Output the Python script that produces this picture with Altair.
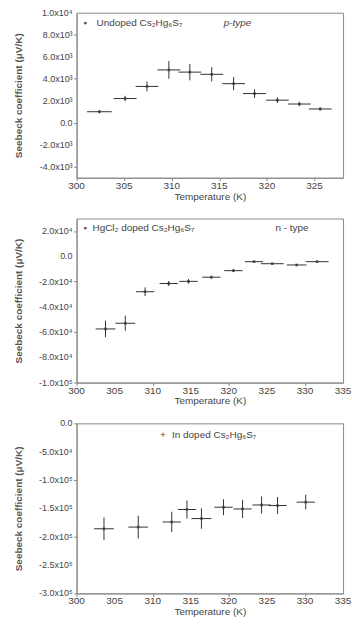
import altair as alt
import pandas as pd

# ---- Undoped Cs2Hg6S7 (p-type) ----
t1 = [302.4, 305.1, 307.4, 309.7, 311.9, 314.2, 316.5, 318.7, 321.1, 323.4, 325.6]
s1 = [1000, 2200, 3300, 4800, 4600, 4400, 3550, 2650, 2050, 1700, 1250]
dt1 = [1.3, 1.2, 1.2, 1.2, 1.2, 1.2, 1.2, 1.2, 1.2, 1.2, 1.2]
ds1 = [150, 250, 450, 800, 750, 650, 600, 400, 250, 200, 150]

# ---- HgCl2 doped Cs2Hg6S7 (n-type) ----
t2 = [303.8, 306.4, 309.0, 312.1, 314.7, 317.7, 320.6, 323.3, 325.7, 328.9, 331.6]
s2 = [-57500, -53000, -28000, -21500, -19800, -16500, -11300, -4200, -5800, -6800, -4200]
dt2 = [1.3, 1.3, 1.2, 1.2, 1.2, 1.2, 1.2, 1.2, 1.5, 1.3, 1.5]
ds2 = [6500, 6000, 3500, 2000, 1800, 1200, 1200, 800, 800, 800, 800]

# ---- In doped Cs2Hg6S7 ----
t3 = [303.6, 308.1, 312.5, 314.5, 316.4, 319.3, 321.8, 324.3, 326.4, 330.1]
s3 = [-186000, -183000, -174000, -152000, -168000, -148000, -151000, -144000, -145000, -139000]
dt3 = [1.3, 1.3, 1.2, 1.2, 1.3, 1.2, 1.2, 1.2, 1.2, 1.2]
ds3 = [20000, 20000, 18000, 16000, 18000, 14000, 16000, 15000, 15000, 13000]

# axis ticks and labels
x_ticks1 = [300, 305, 310, 315, 320, 325]
x_ticks23 = [300, 305, 310, 315, 320, 325, 330, 335]

y_ticks1 = [10000, 8000, 6000, 4000, 2000, 0, -2000, -4000]
y_labels1 = ["1.0x10⁴", "8.0x10³", "6.0x10³", "4.0x10³", "2.0x10³", "0.0", "-2.0x10³", "-4.0x10³"]

y_ticks2 = [20000, 0, -20000, -40000, -60000, -80000, -100000]
y_labels2 = ["2.0x10⁴", "0.0", "-2.0x10⁴", "-4.0x10⁴", "-6.0x10⁴", "-8.0x10⁴", "-1.0x10⁵"]

y_ticks3 = [0, -50000, -100000, -150000, -200000, -250000, -300000]
y_labels3 = ["0.0", "-5.0x10⁴", "-1.0x10⁵", "-1.5x10⁵", "-2.0x10⁵", "-2.5x10⁵", "-3.0x10⁵"]

FONT = "Liberation Sans"
INK = "#333333"
TXT = "#444444"
FRAME = "#888888"
PLOT_W = 268


def panel(t, s, dt, ds, xdom, xticks, ydom, yticks, ylabels, height, legend):
    df = pd.DataFrame({"T": t, "S": s, "dT": dt, "dS": ds})
    df["T0"] = df["T"] - df["dT"]
    df["T1"] = df["T"] + df["dT"]
    df["S0"] = df["S"] - df["dS"]
    df["S1"] = df["S"] + df["dS"]
    yt = pd.DataFrame({"v": yticks, "lab": ylabels})
    xt = pd.DataFrame({"v": xticks, "lab": [str(v) for v in xticks]})

    xs = alt.Scale(domain=xdom, nice=False, zero=False)
    ys = alt.Scale(domain=ydom, nice=False, zero=False)

    # axes carry ticks and titles; the value labels are drawn as text layers
    x_axis = alt.Axis(values=xticks, labels=False, title="Temperature (K)", grid=False,
                      titleFont=FONT, titleFontSize=10, titleFontWeight="normal",
                      titleColor=TXT, titlePadding=10, tickSize=3,
                      domainColor=FRAME, tickColor=FRAME)
    y_axis = alt.Axis(values=yticks, labels=False,
                      title="Seebeck coefficient (μV/K)", grid=False,
                      titleFont=FONT, titleFontSize=10, titleFontWeight="bold",
                      titleColor="#555555", titlePadding=50, tickSize=3,
                      domainColor=FRAME, tickColor=FRAME)

    base = alt.Chart(df)
    xbar = base.mark_rule(color=INK, strokeWidth=1).encode(
        x=alt.X("T0:Q", scale=xs, axis=x_axis), x2="T1:Q",
        y=alt.Y("S:Q", scale=ys, axis=y_axis))
    ybar = base.mark_rule(color=INK, strokeWidth=1).encode(
        x=alt.X("T:Q", scale=xs), y=alt.Y("S0:Q", scale=ys), y2="S1:Q")
    pts = base.mark_point(shape="square", filled=True, size=7, color=INK).encode(
        x=alt.X("T:Q", scale=xs), y=alt.Y("S:Q", scale=ys))
    ylab = alt.Chart(yt).mark_text(
        align="right", baseline="middle", font=FONT, fontSize=9, color=TXT
    ).encode(x=alt.value(-4), y=alt.Y("v:Q", scale=ys), text="lab:N")
    xlab = alt.Chart(xt).mark_text(
        align="center", baseline="top", font=FONT, fontSize=10, color=TXT
    ).encode(x=alt.X("v:Q", scale=xs), y=alt.value(height + 3), text="lab:N")

    layers = [xbar, ybar, pts, ylab, xlab]
    for (px, py, txt, style, size) in legend:
        layers.append(
            alt.Chart(pd.DataFrame({"a": [0]})).mark_text(
                text=txt, align="left", baseline="middle", font=FONT,
                fontSize=size, fontStyle=style, color=TXT
            ).encode(x=alt.value(px), y=alt.value(py))
        )
    return alt.layer(*layers).properties(width=PLOT_W, height=height)


p1 = panel(t1, s1, dt1, ds1, [300, 328], x_ticks1, [-5000, 10000], y_ticks1, y_labels1, 166,
           [(7, 10, "▪", "normal", 9),
            (20, 10, "Undoped Cs₂Hg₆S₇", "normal", 10),
            (148, 10, "p-type", "italic", 10)])
p2 = panel(t2, s2, dt2, ds2, [300, 335], x_ticks23, [-100000, 30000], y_ticks2, y_labels2, 165,
           [(7, 10, "▪", "normal", 9),
            (16, 10, "HgCl₂ doped Cs₂Hg₆S₇", "normal", 10),
            (200, 10, "n - type", "normal", 10)])
p3 = panel(t3, s3, dt3, ds3, [300, 335], x_ticks23, [-300000, 0], y_ticks3, y_labels3, 171,
           [(84, 12, "+", "normal", 10),
            (96, 12, "In doped Cs₂Hg₆S₇", "normal", 10)])

chart = alt.vconcat(p1, p2, p3, spacing=41, bounds="flush").properties(
    padding={"left": 13, "top": 6, "right": 0, "bottom": 2},
    background="white",
).configure_view(stroke=FRAME, strokeWidth=1)

chart.save("out.html", embed_options={"renderer": "svg", "actions": False})
